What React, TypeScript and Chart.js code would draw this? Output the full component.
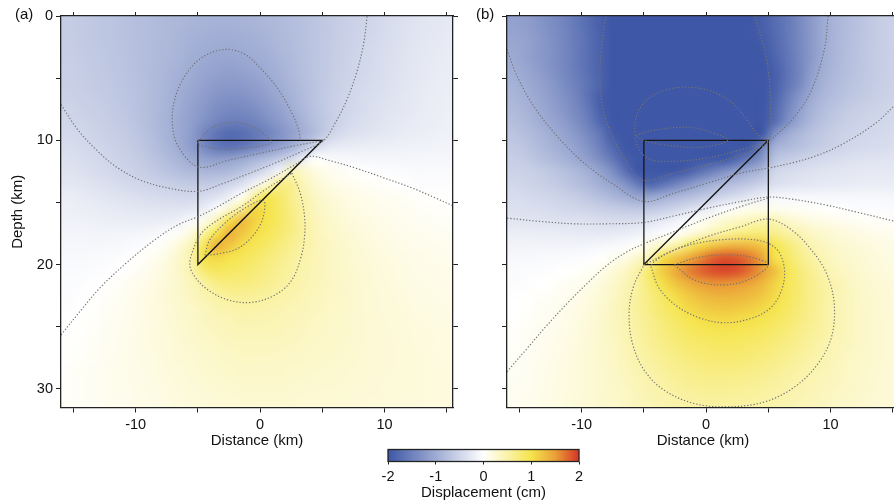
import React, { useEffect, useRef } from "react";
import { Chart, registerables } from "chart.js";

Chart.register(...registerables);

const FONT = '"Liberation Sans", Arial, Helvetica, sans-serif';

// ---------- axes ----------
const X_MIN = -16;
const X_MAX = 15.5;
const DEPTH_MIN = 0;
const DEPTH_MAX = 31.5;
const CBAR_MIN = -2;
const CBAR_MAX = 2;

// grid cell centres (km)
const GRID_X = [-15.5, -14.5, -13.5, -12.5, -11.5, -10.5, -9.5, -8.5, -7.5, -6.5, -5.5, -4.5, -3.5, -2.5, -1.5, -0.5, 0.5, 1.5, 2.5, 3.5, 4.5, 5.5, 6.5, 7.5, 8.5, 9.5, 10.5, 11.5, 12.5, 13.5, 14.5, 15.5];
const GRID_DEPTH = [0.5, 1.5, 2.5, 3.5, 4.5, 5.5, 6.5, 7.5, 8.5, 9.5, 10.5, 11.5, 12.5, 13.5, 14.5, 15.5, 16.5, 17.5, 18.5, 19.5, 20.5, 21.5, 22.5, 23.5, 24.5, 25.5, 26.5, 27.5, 28.5, 29.5, 30.5, 31.5];

// colour scale (cm)
const CMAP_VALUES = [-2, -1, 0, 0.5, 1, 1.5, 2];
const CMAP_COLORS = [
  [62, 87, 166],
  [158, 171, 211],
  [255, 255, 255],
  [250, 243, 170],
  [245, 228, 75],
  [234, 160, 55],
  [214, 52, 40],
];

// ---------- displacement field, panel (a) (rows = depth, cols = distance) ----------
const FIELD_A = [
  [-0.6, -0.62, -0.65, -0.68, -0.71, -0.74, -0.77, -0.8, -0.83, -0.86, -0.89, -0.91, -0.92, -0.92, -0.91, -0.89, -0.86, -0.82, -0.78, -0.73, -0.68, -0.63, -0.58, -0.54, -0.5, -0.45, -0.4, -0.36, -0.32, -0.29, -0.27, -0.25],
  [-0.6, -0.62, -0.65, -0.68, -0.71, -0.74, -0.77, -0.8, -0.84, -0.88, -0.92, -0.94, -0.96, -0.96, -0.95, -0.93, -0.89, -0.84, -0.79, -0.74, -0.68, -0.63, -0.58, -0.53, -0.49, -0.44, -0.39, -0.35, -0.31, -0.28, -0.26, -0.24],
  [-0.59, -0.61, -0.64, -0.67, -0.7, -0.73, -0.77, -0.81, -0.85, -0.89, -0.94, -0.98, -1.0, -1.01, -0.99, -0.96, -0.92, -0.86, -0.8, -0.74, -0.68, -0.62, -0.57, -0.52, -0.47, -0.42, -0.38, -0.34, -0.3, -0.27, -0.25, -0.23],
  [-0.58, -0.6, -0.63, -0.66, -0.69, -0.73, -0.77, -0.81, -0.86, -0.91, -0.97, -1.02, -1.06, -1.07, -1.05, -1.01, -0.96, -0.89, -0.82, -0.75, -0.68, -0.62, -0.56, -0.51, -0.46, -0.41, -0.37, -0.33, -0.29, -0.26, -0.24, -0.22],
  [-0.57, -0.59, -0.62, -0.65, -0.68, -0.72, -0.77, -0.82, -0.88, -0.94, -1.0, -1.07, -1.12, -1.14, -1.12, -1.07, -1.01, -0.93, -0.84, -0.76, -0.68, -0.61, -0.55, -0.5, -0.45, -0.4, -0.36, -0.32, -0.28, -0.25, -0.23, -0.21],
  [-0.56, -0.58, -0.61, -0.64, -0.67, -0.71, -0.76, -0.82, -0.89, -0.96, -1.04, -1.12, -1.19, -1.22, -1.2, -1.15, -1.07, -0.98, -0.88, -0.78, -0.69, -0.61, -0.54, -0.48, -0.43, -0.39, -0.35, -0.31, -0.27, -0.24, -0.22, -0.2],
  [-0.54, -0.56, -0.59, -0.62, -0.66, -0.7, -0.75, -0.82, -0.9, -0.99, -1.08, -1.18, -1.27, -1.31, -1.3, -1.24, -1.15, -1.04, -0.92, -0.8, -0.69, -0.6, -0.52, -0.46, -0.41, -0.37, -0.33, -0.29, -0.26, -0.23, -0.21, -0.19],
  [-0.51, -0.54, -0.57, -0.6, -0.64, -0.69, -0.75, -0.82, -0.91, -1.01, -1.12, -1.24, -1.35, -1.41, -1.4, -1.34, -1.24, -1.12, -0.98, -0.84, -0.71, -0.6, -0.51, -0.45, -0.39, -0.35, -0.31, -0.28, -0.25, -0.22, -0.2, -0.18],
  [-0.48, -0.51, -0.54, -0.58, -0.62, -0.67, -0.74, -0.82, -0.92, -1.03, -1.16, -1.3, -1.44, -1.52, -1.52, -1.46, -1.35, -1.21, -1.06, -0.9, -0.74, -0.61, -0.5, -0.42, -0.37, -0.33, -0.29, -0.26, -0.23, -0.21, -0.19, -0.17],
  [-0.44, -0.47, -0.51, -0.55, -0.59, -0.64, -0.71, -0.8, -0.91, -1.03, -1.18, -1.45, -1.65, -1.77, -1.74, -1.63, -1.49, -1.32, -1.14, -0.95, -0.76, -0.55, -0.42, -0.36, -0.32, -0.29, -0.26, -0.23, -0.21, -0.19, -0.17, -0.16],
  [-0.4, -0.43, -0.47, -0.51, -0.56, -0.61, -0.68, -0.77, -0.88, -1.01, -1.18, -1.42, -1.62, -1.7, -1.64, -1.5, -1.33, -1.16, -0.98, -0.72, -0.45, -0.28, -0.24, -0.22, -0.2, -0.19, -0.18, -0.17, -0.16, -0.15, -0.14, -0.13],
  [-0.36, -0.39, -0.43, -0.47, -0.52, -0.57, -0.63, -0.71, -0.8, -0.9, -1.02, -1.12, -1.17, -1.13, -1.04, -0.92, -0.79, -0.64, -0.45, -0.2, 0.02, -0.05, -0.08, -0.1, -0.11, -0.11, -0.11, -0.11, -0.11, -0.1, -0.1, -0.1],
  [-0.33, -0.36, -0.4, -0.44, -0.48, -0.53, -0.58, -0.64, -0.71, -0.78, -0.84, -0.88, -0.88, -0.83, -0.73, -0.58, -0.38, -0.12, 0.42, 0.3, 0.18, 0.1, 0.05, 0.02, 0.0, -0.02, -0.04, -0.05, -0.06, -0.06, -0.06, -0.06],
  [-0.28, -0.3, -0.33, -0.37, -0.41, -0.45, -0.49, -0.53, -0.57, -0.61, -0.63, -0.63, -0.6, -0.52, -0.38, -0.15, 0.2, 0.65, 0.65, 0.4, 0.25, 0.17, 0.12, 0.09, 0.06, 0.04, 0.02, 0.0, -0.02, -0.03, -0.03, -0.03],
  [-0.22, -0.24, -0.27, -0.3, -0.33, -0.36, -0.39, -0.42, -0.44, -0.46, -0.46, -0.43, -0.35, -0.2, 0.03, 0.52, 0.95, 0.85, 0.66, 0.48, 0.33, 0.24, 0.18, 0.14, 0.11, 0.09, 0.07, 0.05, 0.03, 0.01, 0.0, -0.01],
  [-0.18, -0.2, -0.22, -0.24, -0.26, -0.28, -0.3, -0.31, -0.32, -0.32, -0.3, -0.22, -0.04, 0.25, 0.6, 1.12, 1.02, 0.88, 0.7, 0.52, 0.37, 0.28, 0.22, 0.17, 0.14, 0.12, 0.1, 0.08, 0.06, 0.04, 0.03, 0.02],
  [-0.15, -0.16, -0.18, -0.19, -0.2, -0.21, -0.22, -0.22, -0.2, -0.15, -0.05, 0.12, 0.45, 1.02, 1.32, 1.15, 1.0, 0.88, 0.72, 0.55, 0.4, 0.31, 0.25, 0.2, 0.17, 0.14, 0.12, 0.1, 0.08, 0.07, 0.06, 0.05],
  [-0.12, -0.12, -0.13, -0.13, -0.13, -0.12, -0.11, -0.08, -0.03, 0.06, 0.22, 0.55, 1.0, 1.38, 1.22, 1.05, 0.95, 0.82, 0.7, 0.56, 0.42, 0.34, 0.28, 0.23, 0.19, 0.16, 0.14, 0.12, 0.1, 0.09, 0.08, 0.07],
  [-0.09, -0.09, -0.09, -0.09, -0.08, -0.06, -0.03, 0.02, 0.1, 0.23, 0.45, 0.95, 1.38, 1.22, 1.05, 0.95, 0.85, 0.74, 0.63, 0.52, 0.43, 0.36, 0.3, 0.25, 0.21, 0.18, 0.16, 0.14, 0.12, 0.11, 0.1, 0.09],
  [-0.07, -0.07, -0.06, -0.05, -0.03, 0.0, 0.04, 0.1, 0.18, 0.31, 0.5, 1.02, 1.08, 1.0, 0.92, 0.85, 0.76, 0.67, 0.58, 0.5, 0.42, 0.36, 0.31, 0.26, 0.23, 0.2, 0.18, 0.16, 0.14, 0.13, 0.12, 0.11],
  [-0.05, -0.05, -0.04, -0.02, 0.0, 0.03, 0.08, 0.14, 0.21, 0.32, 0.5, 0.8, 0.9, 0.88, 0.84, 0.77, 0.7, 0.62, 0.54, 0.47, 0.41, 0.36, 0.31, 0.27, 0.24, 0.21, 0.19, 0.17, 0.15, 0.14, 0.13, 0.12],
  [-0.04, -0.03, -0.01, 0.01, 0.04, 0.08, 0.12, 0.17, 0.23, 0.3, 0.4, 0.55, 0.7, 0.74, 0.73, 0.7, 0.65, 0.58, 0.52, 0.46, 0.41, 0.36, 0.32, 0.28, 0.25, 0.22, 0.2, 0.18, 0.16, 0.15, 0.14, 0.13],
  [-0.03, -0.01, 0.01, 0.03, 0.06, 0.1, 0.14, 0.19, 0.24, 0.3, 0.37, 0.45, 0.53, 0.6, 0.61, 0.6, 0.56, 0.52, 0.48, 0.43, 0.39, 0.35, 0.32, 0.28, 0.25, 0.23, 0.21, 0.19, 0.17, 0.16, 0.15, 0.14],
  [-0.02, 0.0, 0.02, 0.05, 0.08, 0.11, 0.15, 0.19, 0.23, 0.28, 0.33, 0.39, 0.45, 0.49, 0.51, 0.51, 0.49, 0.46, 0.43, 0.4, 0.37, 0.34, 0.31, 0.28, 0.25, 0.23, 0.21, 0.2, 0.18, 0.17, 0.16, 0.15],
  [-0.01, 0.01, 0.03, 0.06, 0.09, 0.12, 0.15, 0.19, 0.23, 0.27, 0.31, 0.36, 0.4, 0.43, 0.45, 0.46, 0.45, 0.43, 0.41, 0.38, 0.35, 0.33, 0.3, 0.28, 0.26, 0.24, 0.22, 0.21, 0.19, 0.18, 0.17, 0.16],
  [0.0, 0.02, 0.04, 0.07, 0.1, 0.13, 0.16, 0.19, 0.22, 0.26, 0.3, 0.34, 0.37, 0.4, 0.41, 0.42, 0.41, 0.4, 0.38, 0.36, 0.34, 0.32, 0.3, 0.28, 0.26, 0.24, 0.23, 0.21, 0.2, 0.19, 0.18, 0.17],
  [0.01, 0.03, 0.05, 0.08, 0.1, 0.13, 0.16, 0.19, 0.22, 0.25, 0.28, 0.31, 0.34, 0.36, 0.38, 0.38, 0.38, 0.37, 0.36, 0.34, 0.32, 0.31, 0.29, 0.27, 0.26, 0.24, 0.23, 0.22, 0.2, 0.19, 0.18, 0.18],
  [0.02, 0.04, 0.06, 0.08, 0.11, 0.13, 0.16, 0.18, 0.21, 0.24, 0.26, 0.29, 0.31, 0.33, 0.35, 0.35, 0.35, 0.34, 0.33, 0.32, 0.31, 0.29, 0.28, 0.27, 0.25, 0.24, 0.23, 0.22, 0.21, 0.2, 0.19, 0.18],
  [0.03, 0.05, 0.07, 0.09, 0.11, 0.13, 0.15, 0.18, 0.2, 0.22, 0.25, 0.27, 0.29, 0.31, 0.32, 0.32, 0.32, 0.32, 0.31, 0.3, 0.29, 0.28, 0.27, 0.26, 0.25, 0.24, 0.23, 0.22, 0.21, 0.2, 0.19, 0.19],
  [0.04, 0.05, 0.07, 0.09, 0.11, 0.13, 0.15, 0.17, 0.19, 0.21, 0.23, 0.25, 0.27, 0.28, 0.29, 0.3, 0.3, 0.3, 0.29, 0.28, 0.27, 0.27, 0.26, 0.25, 0.24, 0.23, 0.22, 0.22, 0.21, 0.2, 0.2, 0.19],
  [0.04, 0.06, 0.07, 0.09, 0.11, 0.12, 0.14, 0.16, 0.18, 0.2, 0.22, 0.23, 0.25, 0.26, 0.27, 0.28, 0.28, 0.28, 0.27, 0.26, 0.26, 0.25, 0.25, 0.24, 0.23, 0.23, 0.22, 0.21, 0.21, 0.2, 0.2, 0.19],
  [0.05, 0.06, 0.08, 0.09, 0.11, 0.12, 0.14, 0.15, 0.17, 0.19, 0.2, 0.22, 0.23, 0.24, 0.25, 0.26, 0.26, 0.26, 0.25, 0.25, 0.24, 0.24, 0.23, 0.23, 0.22, 0.22, 0.21, 0.21, 0.2, 0.2, 0.19, 0.19],
];

// ---------- displacement field, panel (b) ----------
const FIELD_B = [
  [-1.12, -1.15, -1.25, -1.35, -1.45, -1.6, -1.75, -1.9, -2.05, -2.2, -2.3, -2.4, -2.5, -2.5, -2.5, -2.4, -2.3, -2.2, -2.1, -2.0, -1.9, -1.75, -1.6, -1.4, -1.2, -1.0, -0.88, -0.78, -0.7, -0.63, -0.57, -0.53],
  [-1.08, -1.12, -1.22, -1.32, -1.43, -1.57, -1.72, -1.88, -2.05, -2.25, -2.4, -2.55, -2.6, -2.6, -2.6, -2.5, -2.4, -2.3, -2.15, -2.05, -1.92, -1.77, -1.6, -1.4, -1.2, -1.0, -0.88, -0.78, -0.7, -0.63, -0.57, -0.53],
  [-1.04, -1.1, -1.2, -1.3, -1.42, -1.56, -1.7, -1.87, -2.05, -2.3, -2.5, -2.65, -2.7, -2.75, -2.7, -2.6, -2.5, -2.4, -2.25, -2.1, -1.97, -1.8, -1.62, -1.42, -1.2, -1.0, -0.87, -0.77, -0.69, -0.62, -0.57, -0.53],
  [-1.01, -1.1, -1.2, -1.3, -1.42, -1.56, -1.72, -1.88, -2.1, -2.35, -2.6, -2.8, -2.9, -2.9, -2.85, -2.75, -2.6, -2.5, -2.35, -2.2, -2.05, -1.85, -1.65, -1.43, -1.2, -0.98, -0.86, -0.76, -0.68, -0.62, -0.57, -0.53],
  [-0.97, -1.05, -1.15, -1.27, -1.4, -1.55, -1.7, -1.88, -2.1, -2.4, -2.7, -2.9, -3.0, -3.0, -3.0, -2.9, -2.75, -2.6, -2.45, -2.3, -2.1, -1.9, -1.68, -1.45, -1.15, -0.95, -0.84, -0.75, -0.68, -0.62, -0.57, -0.53],
  [-0.92, -1.0, -1.1, -1.22, -1.36, -1.5, -1.66, -1.85, -2.1, -2.4, -2.7, -3.0, -3.0, -3.0, -3.0, -3.0, -2.9, -2.7, -2.5, -2.35, -2.15, -1.9, -1.65, -1.4, -1.1, -0.9, -0.8, -0.72, -0.66, -0.6, -0.56, -0.52],
  [-0.87, -0.95, -1.05, -1.17, -1.3, -1.45, -1.68, -1.93, -2.2, -2.4, -2.7, -3.0, -3.0, -3.0, -3.0, -3.0, -3.0, -2.8, -2.6, -2.4, -2.15, -1.85, -1.55, -1.25, -1.0, -0.85, -0.76, -0.69, -0.63, -0.58, -0.54, -0.51],
  [-0.82, -0.9, -1.0, -1.12, -1.25, -1.4, -1.6, -1.9, -2.15, -2.4, -2.7, -3.0, -3.0, -3.0, -3.0, -3.0, -3.0, -3.0, -2.7, -2.5, -2.2, -1.8, -1.45, -1.15, -0.92, -0.78, -0.68, -0.61, -0.56, -0.52, -0.49, -0.47],
  [-0.77, -0.85, -0.95, -1.05, -1.18, -1.33, -1.52, -1.8, -2.1, -2.35, -2.7, -3.0, -3.0, -3.0, -3.0, -3.0, -3.0, -3.0, -2.8, -2.5, -2.2, -1.75, -1.35, -1.05, -0.85, -0.72, -0.63, -0.57, -0.52, -0.49, -0.46, -0.44],
  [-0.7, -0.77, -0.87, -0.97, -1.08, -1.22, -1.4, -1.62, -1.95, -2.2, -2.6, -3.2, -3.5, -3.6, -3.6, -3.5, -3.3, -3.0, -2.7, -2.4, -2.1, -1.3, -1.0, -0.85, -0.72, -0.63, -0.56, -0.51, -0.48, -0.45, -0.43, -0.41],
  [-0.64, -0.7, -0.8, -0.9, -1.0, -1.12, -1.3, -1.52, -1.8, -2.1, -2.6, -3.0, -3.2, -3.2, -3.1, -3.0, -2.8, -2.5, -2.3, -2.0, -1.5, -0.95, -0.85, -0.75, -0.66, -0.58, -0.52, -0.47, -0.44, -0.42, -0.4, -0.38],
  [-0.58, -0.63, -0.72, -0.81, -0.91, -1.02, -1.17, -1.37, -1.62, -1.9, -2.3, -3.0, -3.1, -3.1, -3.0, -2.9, -2.4, -2.05, -1.8, -1.55, -1.25, -0.72, -0.62, -0.55, -0.48, -0.43, -0.4, -0.37, -0.35, -0.33, -0.32, -0.31],
  [-0.53, -0.55, -0.6, -0.66, -0.74, -0.83, -0.95, -1.1, -1.35, -1.7, -2.05, -2.3, -2.3, -2.1, -1.9, -1.7, -1.5, -1.3, -1.15, -1.0, -0.85, -0.48, -0.42, -0.38, -0.35, -0.32, -0.3, -0.28, -0.27, -0.26, -0.26, -0.26],
  [-0.47, -0.5, -0.55, -0.6, -0.67, -0.75, -0.85, -0.97, -1.1, -1.3, -1.6, -1.85, -1.7, -1.5, -1.3, -1.1, -0.95, -0.85, -0.75, -0.65, -0.55, -0.38, -0.33, -0.3, -0.28, -0.26, -0.25, -0.24, -0.23, -0.22, -0.22, -0.22],
  [-0.41, -0.43, -0.46, -0.5, -0.55, -0.6, -0.68, -0.77, -0.88, -0.98, -1.1, -1.1, -1.0, -0.9, -0.8, -0.7, -0.6, -0.5, -0.4, -0.3, -0.2, -0.12, -0.1, -0.1, -0.1, -0.1, -0.1, -0.1, -0.1, -0.1, -0.11, -0.12],
  [-0.36, -0.37, -0.39, -0.42, -0.45, -0.48, -0.52, -0.56, -0.6, -0.64, -0.67, -0.66, -0.6, -0.5, -0.4, -0.3, -0.2, -0.05, 0.05, 0.1, 0.12, 0.1, 0.07, 0.05, 0.03, 0.02, 0.0, -0.02, -0.03, -0.04, -0.05, -0.06],
  [-0.3, -0.31, -0.32, -0.33, -0.34, -0.35, -0.36, -0.38, -0.4, -0.4, -0.38, -0.33, -0.25, -0.15, -0.05, 0.05, 0.15, 0.27, 0.35, 0.42, 0.5, 0.45, 0.32, 0.24, 0.18, 0.14, 0.11, 0.08, 0.06, 0.04, 0.03, 0.02],
  [-0.2, -0.2, -0.21, -0.22, -0.23, -0.24, -0.25, -0.26, -0.25, -0.22, -0.17, -0.1, -0.03, 0.03, 0.15, 0.3, 0.45, 0.58, 0.68, 0.75, 0.75, 0.65, 0.55, 0.45, 0.35, 0.28, 0.23, 0.19, 0.16, 0.13, 0.11, 0.1],
  [-0.13, -0.13, -0.13, -0.13, -0.13, -0.13, -0.12, -0.1, -0.07, -0.03, 0.05, 0.2, 0.35, 0.5, 0.8, 1.08, 1.22, 1.32, 1.36, 1.32, 1.22, 0.98, 0.78, 0.6, 0.46, 0.37, 0.3, 0.25, 0.21, 0.18, 0.16, 0.14],
  [-0.08, -0.08, -0.07, -0.06, -0.05, -0.04, -0.02, 0.02, 0.08, 0.17, 0.32, 0.45, 1.05, 1.22, 1.42, 1.6, 1.8, 1.88, 1.84, 1.7, 1.48, 1.02, 0.87, 0.68, 0.54, 0.43, 0.35, 0.29, 0.25, 0.21, 0.18, 0.16],
  [-0.05, -0.04, -0.03, -0.02, 0.0, 0.02, 0.06, 0.12, 0.22, 0.35, 0.52, 0.88, 1.18, 1.42, 1.62, 1.78, 1.88, 1.92, 1.88, 1.72, 1.52, 1.27, 0.97, 0.77, 0.61, 0.49, 0.39, 0.32, 0.27, 0.23, 0.2, 0.18],
  [-0.03, -0.02, 0.0, 0.02, 0.05, 0.08, 0.13, 0.2, 0.3, 0.42, 0.56, 0.8, 1.04, 1.23, 1.38, 1.5, 1.56, 1.56, 1.53, 1.46, 1.34, 1.13, 0.95, 0.79, 0.65, 0.53, 0.44, 0.36, 0.3, 0.26, 0.23, 0.2],
  [-0.01, 0.01, 0.03, 0.05, 0.08, 0.12, 0.17, 0.24, 0.33, 0.45, 0.58, 0.72, 0.88, 1.05, 1.19, 1.29, 1.35, 1.37, 1.35, 1.3, 1.21, 1.07, 0.93, 0.79, 0.66, 0.55, 0.45, 0.38, 0.31, 0.27, 0.24, 0.21],
  [0.0, 0.02, 0.05, 0.07, 0.11, 0.15, 0.2, 0.27, 0.36, 0.46, 0.58, 0.7, 0.83, 0.95, 1.07, 1.16, 1.21, 1.22, 1.2, 1.16, 1.09, 0.99, 0.88, 0.76, 0.65, 0.54, 0.45, 0.38, 0.32, 0.28, 0.24, 0.21],
  [0.02, 0.04, 0.06, 0.09, 0.13, 0.17, 0.22, 0.28, 0.36, 0.45, 0.56, 0.66, 0.76, 0.86, 0.95, 1.02, 1.06, 1.07, 1.06, 1.02, 0.97, 0.9, 0.82, 0.72, 0.63, 0.54, 0.45, 0.38, 0.32, 0.28, 0.25, 0.22],
  [0.03, 0.05, 0.08, 0.11, 0.14, 0.18, 0.23, 0.29, 0.36, 0.44, 0.54, 0.63, 0.72, 0.8, 0.87, 0.92, 0.95, 0.96, 0.95, 0.92, 0.88, 0.82, 0.75, 0.67, 0.59, 0.52, 0.44, 0.38, 0.32, 0.28, 0.25, 0.22],
  [0.04, 0.06, 0.09, 0.12, 0.15, 0.19, 0.24, 0.29, 0.35, 0.43, 0.52, 0.6, 0.67, 0.74, 0.8, 0.84, 0.87, 0.88, 0.87, 0.84, 0.8, 0.75, 0.69, 0.62, 0.55, 0.48, 0.42, 0.37, 0.32, 0.28, 0.25, 0.22],
  [0.05, 0.07, 0.1, 0.13, 0.16, 0.2, 0.24, 0.29, 0.34, 0.41, 0.49, 0.56, 0.62, 0.68, 0.73, 0.77, 0.79, 0.8, 0.79, 0.77, 0.73, 0.69, 0.63, 0.57, 0.51, 0.45, 0.4, 0.35, 0.31, 0.28, 0.25, 0.22],
  [0.06, 0.08, 0.11, 0.14, 0.17, 0.2, 0.24, 0.28, 0.33, 0.39, 0.46, 0.52, 0.58, 0.63, 0.67, 0.7, 0.72, 0.72, 0.71, 0.69, 0.66, 0.62, 0.57, 0.52, 0.47, 0.43, 0.38, 0.34, 0.3, 0.27, 0.24, 0.22],
  [0.07, 0.09, 0.12, 0.14, 0.17, 0.2, 0.24, 0.28, 0.32, 0.37, 0.43, 0.48, 0.53, 0.58, 0.62, 0.64, 0.65, 0.65, 0.64, 0.62, 0.6, 0.56, 0.52, 0.48, 0.44, 0.4, 0.36, 0.33, 0.3, 0.27, 0.24, 0.22],
  [0.08, 0.1, 0.12, 0.15, 0.18, 0.21, 0.24, 0.27, 0.31, 0.35, 0.4, 0.45, 0.49, 0.53, 0.56, 0.58, 0.59, 0.59, 0.58, 0.57, 0.55, 0.52, 0.48, 0.45, 0.41, 0.38, 0.35, 0.32, 0.29, 0.26, 0.24, 0.22],
  [0.08, 0.1, 0.13, 0.15, 0.18, 0.21, 0.24, 0.27, 0.3, 0.34, 0.38, 0.42, 0.46, 0.49, 0.51, 0.53, 0.53, 0.53, 0.53, 0.52, 0.5, 0.48, 0.45, 0.42, 0.4, 0.37, 0.34, 0.31, 0.29, 0.26, 0.24, 0.22],
];

// ---------- contour lines [distance, depth] ----------
const CONTOURS_A: number[][][] = [
  [[-16, 7.12], [-14.66, 9.14], [-13.04, 10.89], [-11.43, 12.23], [-9.55, 13.23], [-7.4, 13.84], [-4.95, 14.11], [-3.1, 13.52], [-0.95, 12.69], [1.2, 11.83], [3.35, 10.89], [5.08, 10.03], [6.04, 8.6], [6.98, 6.72], [7.79, 4.44], [8.33, 2.15], [8.6, 0]],
  [[5.08, 10.03], [2.82, 10.43], [0.13, 11.02], [-2.56, 11.61], [-4.95, 12.15], [-6.59, 10.48], [-7.05, 8.6], [-6.86, 6.72], [-6.05, 4.84], [-4.71, 3.36], [-2.83, 2.69], [-1.22, 3.09], [0.13, 4.3], [1.47, 5.91], [2.55, 7.8], [3.09, 9.14], [3.22, 10.0]],
  [[-4.98, 10.08], [-3.9, 9.01], [-2.29, 8.55], [-0.68, 8.87], [0.53, 9.68], [0.94, 10.16], [0.13, 10.43], [-1.48, 10.67], [-3.37, 10.7], [-4.98, 10.35], [-4.98, 10.08]],
  [[-16, 25.67], [-14.39, 23.66], [-12.77, 21.77], [-10.62, 19.76], [-8.47, 18.01], [-6.59, 16.8], [-4.95, 16.13], [-3.37, 15.32], [-1.48, 14.25], [0.67, 13.17], [2.82, 11.96], [4.03, 11.29], [5.51, 11.61], [7.66, 12.23], [9.81, 12.98], [12.23, 13.84], [14.11, 14.65], [15.61, 15.32]],
  [[2.55, 12.63], [3.22, 14.25], [3.57, 16.13], [3.57, 17.74], [3.3, 19.35], [2.55, 21.24], [1.2, 22.45], [-0.68, 23.04], [-2.56, 22.85], [-4.19, 22.04], [-5.25, 20.97], [-5.65, 20.03], [-5.38, 18.82], [-4.71, 17.47], [-3.37, 16.4], [-1.48, 15.32], [0.4, 13.98], [2.55, 12.63]],
  [[-4.44, 19.25], [-4.04, 18.01], [-2.83, 16.67], [-1.22, 15.46], [0.26, 14.84], [0.26, 16.13], [-0.41, 17.47], [-1.75, 18.68], [-3.37, 19.14], [-4.44, 19.25]],
];

const CONTOURS_B: number[][][] = [
  [[-16, 2.69], [-15.19, 4.84], [-13.85, 7.26], [-11.97, 9.68], [-9.82, 11.83], [-7.4, 13.58], [-5, 14.92], [-2.56, 14.25], [0.13, 13.44], [2.82, 12.63], [5, 12.23], [6.85, 11.83], [8.73, 11.29], [10.88, 10.35], [13.57, 8.66], [15.21, 7.12], [15.7, 6.6]],
  [[-16, 16.26], [-13.31, 16.53], [-10.62, 16.72], [-7.94, 16.72], [-5, 16.61], [-2.56, 16.08], [0.13, 15.46], [2.82, 14.92], [5, 14.57], [6.85, 14.73], [9.54, 15.19], [12.23, 15.81], [15.21, 16.53], [15.7, 16.65]],
  [[-16, 28.63], [-14.39, 26.75], [-12.77, 24.87], [-11.16, 23.12], [-9.55, 21.51], [-7.94, 20.03], [-6.32, 18.95], [-5, 18.33], [-2.56, 17.34], [0.13, 16.26], [2.82, 15.32], [5, 14.65]],
  [[-8.07, 0], [-8.42, 2.69], [-8.53, 5.38], [-8.15, 8.06], [-7.13, 10.48], [-6.05, 12.23], [-5, 13.23], [-2.56, 12.63], [0.13, 11.96], [2.82, 11.16], [5, 10.08], [5.18, 8.06], [5.1, 5.38], [4.7, 2.69], [3.89, 0]],
  [[9.8, 0], [9.5, 2.7], [8.46, 5.97], [7.07, 8.15], [5.2, 10.0]],
  [[5, 10.08], [2.82, 10.75], [0.13, 11.42], [-2.56, 11.69], [-4.44, 11.56], [-5.38, 10.75], [-5.73, 9.41], [-5.52, 7.8], [-4.58, 6.59], [-3.1, 5.91], [-1.48, 5.73], [0.13, 5.97], [1.74, 6.72], [3.09, 8.06], [4.03, 9.41], [5, 10.08]],
  [[-5.68, 9.6], [-4.23, 9.19], [-1.48, 8.95], [0.37, 9.35], [1.74, 10.0], [-0.44, 10.56], [-3.1, 10.4], [-5.03, 10.0], [-5.68, 9.6]],
  [[-5, 20.03], [-2.56, 18.82], [0.13, 17.74], [2.82, 16.94], [5, 16.34], [6.85, 17.2], [8.46, 18.82], [9.67, 20.7], [10.29, 23.12], [10.08, 25.81], [9.0, 27.96], [7.12, 29.84], [4.7, 31.05], [1.74, 31.45], [-0.95, 31.18], [-3.37, 30.11], [-4.98, 28.49], [-5.92, 26.34], [-6.19, 23.92], [-5.84, 21.77], [-5, 20.03]],
  [[-4.44, 20.16], [-3.77, 21.91], [-2.29, 23.39], [-0.41, 24.33], [1.47, 24.68], [3.35, 24.41], [4.97, 23.66], [5.91, 22.45], [6.31, 20.7], [5.91, 19.09], [4.97, 18.28], [3.35, 17.96], [1.2, 18.01], [-0.95, 18.33], [-2.83, 18.95], [-4.17, 19.76], [-4.44, 20.16]],
  [[-2.56, 20.03], [-0.95, 19.49], [1.2, 19.22], [3.35, 19.35], [4.97, 20.03], [3.35, 21.24], [1.2, 21.64], [-0.95, 21.24], [-2.56, 20.03]],
];

// ---------- fault geometry ----------
const FAULT_A_X = [-5, 5, -5, -5];
const FAULT_A_DEPTH = [10, 10, 20, 10];
const FAULT_B_X = [-5, 5, -5, -5, 5, 5];
const FAULT_B_DEPTH = [20, 10, 10, 20, 20, 10];

// ---------- helpers ----------
function colorFor(v: number): number[] {
  const vs = CMAP_VALUES;
  const cs = CMAP_COLORS;
  if (v <= vs[0]) return cs[0];
  if (v >= vs[vs.length - 1]) return cs[cs.length - 1];
  for (let i = 0; i < vs.length - 1; i++) {
    if (v >= vs[i] && v <= vs[i + 1]) {
      const t = (v - vs[i]) / (vs[i + 1] - vs[i]);
      return [0, 1, 2].map((k) => cs[i][k] + t * (cs[i + 1][k] - cs[i][k]));
    }
  }
  return cs[0];
}

const heatmapPlugin = {
  id: "heatmap",
  beforeDatasetsDraw(chart: any, _args: any, opts: any) {
    const field: number[][] = opts && opts.field;
    if (!field) return;
    const { ctx, chartArea, scales } = chart;
    const nx = GRID_X.length;
    const ny = GRID_DEPTH.length;
    const off = document.createElement("canvas");
    off.width = nx;
    off.height = ny;
    const octx = off.getContext("2d")!;
    const img = octx.createImageData(nx, ny);
    for (let j = 0; j < ny; j++) {
      for (let i = 0; i < nx; i++) {
        const c = colorFor(field[j][i]);
        const p = (j * nx + i) * 4;
        img.data[p] = c[0];
        img.data[p + 1] = c[1];
        img.data[p + 2] = c[2];
        img.data[p + 3] = 255;
      }
    }
    octx.putImageData(img, 0, 0);
    const dx = GRID_X[1] - GRID_X[0];
    const dd = GRID_DEPTH[1] - GRID_DEPTH[0];
    const x0 = scales.x.getPixelForValue(GRID_X[0] - dx / 2);
    const x1 = scales.x.getPixelForValue(GRID_X[nx - 1] + dx / 2);
    const y0 = scales.y.getPixelForValue(GRID_DEPTH[0] - dd / 2);
    const y1 = scales.y.getPixelForValue(GRID_DEPTH[ny - 1] + dd / 2);
    ctx.save();
    ctx.beginPath();
    ctx.rect(chartArea.left, chartArea.top, chartArea.right - chartArea.left, chartArea.bottom - chartArea.top);
    ctx.clip();
    ctx.imageSmoothingEnabled = true;
    (ctx as any).imageSmoothingQuality = "high";
    ctx.drawImage(off, x0, y0, x1 - x0, y1 - y0);
    ctx.restore();
  },
};

const colorbarPlugin = {
  id: "colorbar",
  beforeDatasetsDraw(chart: any) {
    const { ctx, chartArea, scales } = chart;
    const left = scales.x.getPixelForValue(CBAR_MIN);
    const right = scales.x.getPixelForValue(CBAR_MAX);
    const grad = ctx.createLinearGradient(left, 0, right, 0);
    CMAP_VALUES.forEach((v, i) => {
      const c = CMAP_COLORS[i];
      grad.addColorStop((v - CBAR_MIN) / (CBAR_MAX - CBAR_MIN), `rgb(${c[0]},${c[1]},${c[2]})`);
    });
    ctx.save();
    ctx.fillStyle = grad;
    ctx.fillRect(left, chartArea.top, right - left, chartArea.bottom - chartArea.top);
    ctx.strokeStyle = "#222";
    ctx.lineWidth = 1.3;
    ctx.strokeRect(left, chartArea.top, right - left, chartArea.bottom - chartArea.top);
    ctx.restore();
  },
};

const TICK_FONT = { family: FONT, size: 14.5 };
const TITLE_FONT = { family: FONT, size: 15 };
const AXIS_COLOR = "#222";

function tickGrid(len: number) {
  return { display: true, drawOnChartArea: false, drawTicks: true, tickLength: len, tickColor: AXIS_COLOR, tickWidth: 1 };
}
const BORDER = { display: true, color: AXIS_COLOR, width: 1.3, z: 1 };

function panelConfig(field: number[][], contours: number[][][], faultX: number[], faultD: number[], showDepthLabels: boolean) {
  const datasets: any[] = contours.map((c) => ({
    data: c.map((p) => ({ x: p[0], y: p[1] })),
    showLine: true,
    pointRadius: 0,
    borderColor: "#737373",
    borderWidth: 1.15,
    borderDash: [1.3, 1.9],
    tension: 0.35,
    fill: false,
  }));
  datasets.push({
    data: faultX.map((x, i) => ({ x, y: faultD[i] })),
    showLine: true,
    pointRadius: 0,
    borderColor: "#151515",
    borderWidth: 1.3,
    tension: 0,
    fill: false,
  });
  return {
    type: "scatter" as const,
    data: { datasets },
    plugins: [heatmapPlugin],
    options: {
      animation: false as const,
      responsive: false,
      events: [],
      layout: { padding: 0 },
      plugins: {
        legend: { display: false },
        tooltip: { enabled: false },
        heatmap: { field },
      },
      scales: {
        x: {
          type: "linear",
          position: "bottom",
          min: X_MIN,
          max: X_MAX,
          afterFit: (s: any) => { s.height = 52.5; },
          ticks: {
            stepSize: 5,
            includeBounds: false,
            autoSkip: false,
            maxRotation: 0,
            padding: 3.5,
            font: TICK_FONT,
            color: "#111",
            callback: (v: any) => (Number(v) % 10 === 0 ? String(v) : ""),
          },
          grid: tickGrid(5),
          border: BORDER,
          title: { display: true, text: "Distance (km)", font: TITLE_FONT, color: "#111", padding: { top: 0, bottom: 10 } },
        },
        xTop: {
          type: "linear",
          position: "top",
          min: X_MIN,
          max: X_MAX,
          afterFit: (s: any) => { s.height = 16; },
          ticks: { display: false, stepSize: 5, includeBounds: false },
          grid: tickGrid(4),
          border: BORDER,
        },
        y: {
          type: "linear",
          position: "left",
          reverse: true,
          min: DEPTH_MIN,
          max: DEPTH_MAX,
          afterFit: (s: any) => { s.width = 61; },
          ticks: {
            stepSize: 5,
            includeBounds: false,
            autoSkip: false,
            padding: 3,
            font: TICK_FONT,
            color: "#111",
            callback: (v: any) => (showDepthLabels && Number(v) % 10 === 0 ? String(v) : ""),
          },
          grid: tickGrid(5),
          border: BORDER,
          title: { display: showDepthLabels, text: "Depth (km)", font: TITLE_FONT, color: "#111", padding: { top: 9, bottom: 0 } },
        },
        yRight: {
          type: "linear",
          position: "right",
          reverse: true,
          min: DEPTH_MIN,
          max: DEPTH_MAX,
          afterFit: (s: any) => { s.width = 27; },
          ticks: { display: false, stepSize: 5, includeBounds: false },
          grid: tickGrid(5),
          border: BORDER,
        },
      },
    },
  };
}

function colorbarConfig() {
  return {
    type: "scatter" as const,
    data: { datasets: [] },
    plugins: [colorbarPlugin],
    options: {
      animation: false as const,
      responsive: false,
      events: [],
      layout: { padding: { left: 48, right: 51, top: 9.5, bottom: 0 } },
      plugins: { legend: { display: false }, tooltip: { enabled: false } },
      scales: {
        x: {
          type: "linear",
          position: "bottom",
          min: CBAR_MIN,
          max: CBAR_MAX,
          afterFit: (s: any) => { s.height = 42.5; },
          ticks: { stepSize: 1, autoSkip: false, maxRotation: 0, padding: 4.2, font: TICK_FONT, color: "#111" },
          grid: tickGrid(3),
          border: { display: false },
          title: { display: true, text: "Displacement (cm)", font: TITLE_FONT, color: "#111", padding: { top: 0, bottom: 2 } },
        },
        y: { display: false, min: 0, max: 1 },
      },
    },
  };
}

export default function App() {
  const refA = useRef<HTMLCanvasElement>(null);
  const refB = useRef<HTMLCanvasElement>(null);
  const refC = useRef<HTMLCanvasElement>(null);

  useEffect(() => {
    Chart.defaults.font.family = FONT;
    Chart.defaults.color = "#111";
    const a = new Chart(refA.current!, panelConfig(FIELD_A, CONTOURS_A, FAULT_A_X, FAULT_A_DEPTH, true) as any);
    const b = new Chart(refB.current!, panelConfig(FIELD_B, CONTOURS_B, FAULT_B_X, FAULT_B_DEPTH, false) as any);
    const c = new Chart(refC.current!, colorbarConfig() as any);
    return () => {
      a.destroy();
      b.destroy();
      c.destroy();
    };
  }, []);

  const label: React.CSSProperties = { position: "absolute", top: 5, fontFamily: FONT, fontSize: 15, lineHeight: "18px", color: "#111" };

  return (
    <div style={{ position: "fixed", left: 0, top: 0, width: 894, height: 504, overflow: "hidden", background: "#fff" }}>
      <canvas ref={refA} width={480} height={460} style={{ position: "absolute", left: 0, top: 0, width: 480, height: 460 }} />
      <canvas ref={refB} width={480} height={460} style={{ position: "absolute", left: 446, top: 0, width: 480, height: 460 }} />
      <canvas ref={refC} width={290} height={64} style={{ position: "absolute", left: 340, top: 440, width: 290, height: 64 }} />
      <div style={{ ...label, left: 15 }}>(a)</div>
      <div style={{ ...label, left: 476 }}>(b)</div>
    </div>
  );
}
